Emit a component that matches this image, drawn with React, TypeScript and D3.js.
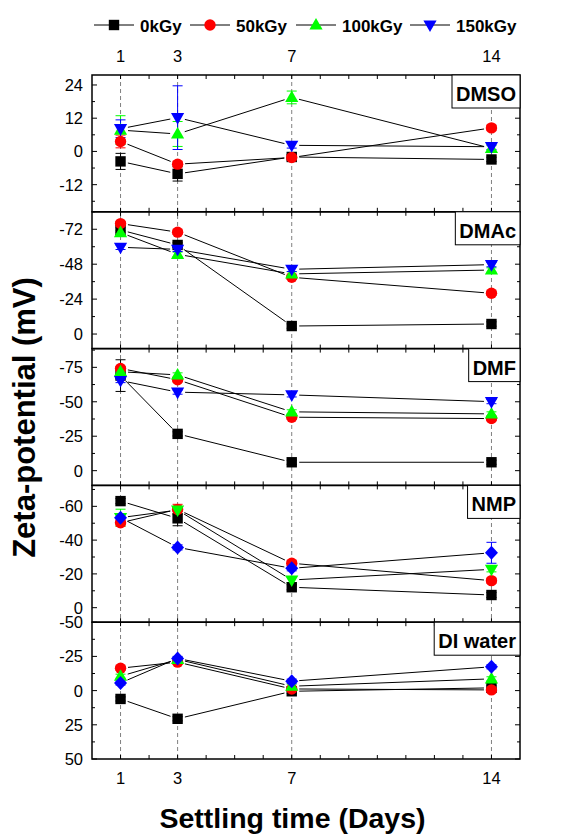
import React from 'react';
import * as d3 from 'd3';

// ---- data ----
const days = [1, 3, 7, 14];
const doseLabels = ['0kGy', '50kGy', '100kGy', '150kGy'];

const dmsoValues = [
  [-3.6, -8.1, -2.0, -2.9],
  [3.6, -4.6, -2.2, 8.5],
  [7.7, 6.3, 19.5, 1.1],
  [8.2, 12.2, 2.2, 1.7],
];
const dmsoErrors = [
  [2.9, 2.6, 0.8, 0.8],
  [2.3, 1.0, 1.0, 1.0],
  [5.2, 4.5, 2.3, 1.0],
  [3.2, 11.5, 1.0, 1.0],
];

const dmacValues = [
  [-71.5, -61.2, -5.5, -6.9],
  [-75.9, -70.0, -39.0, -28.0],
  [-69.7, -54.8, -41.3, -44.0],
  [-59.6, -58.2, -44.5, -47.7],
];
const dmacErrors = [
  [1.5, 1.5, 1.5, 1.5],
  [1.5, 1.5, 1.5, 1.5],
  [1.5, 1.5, 1.5, 1.5],
  [1.5, 1.5, 1.5, 1.5],
];

const dmfValues = [
  [-69.0, -26.7, -6.1, -6.1],
  [-74.2, -66.0, -38.8, -37.8],
  [-71.8, -69.5, -42.7, -41.2],
  [-65.4, -57.0, -55.0, -50.1],
];
const dmfErrors = [
  [11.5, 1.5, 1.5, 1.5],
  [1.5, 1.5, 1.5, 1.5],
  [1.5, 1.5, 1.5, 1.5],
  [1.5, 1.5, 1.5, 1.5],
];

const nmpValues = [
  [-63.1, -52.9, -12.1, -7.5],
  [-50.3, -58.2, -26.3, -16.0],
  [-53.3, -57.8, -16.4, -22.7],
  [-53.3, -35.7, -23.3, -32.5],
];
const nmpErrors = [
  [1.5, 4.4, 1.5, 1.5],
  [2.0, 3.0, 1.5, 1.5],
  [5.0, 2.0, 1.5, 1.5],
  [2.0, 1.5, 1.5, 6.2],
];

const diValues = [
  [6.1, 20.6, 0.5, -2.0],
  [-16.4, -20.8, -1.2, -0.5],
  [-10.5, -22.8, -3.2, -8.6],
  [-5.6, -23.5, -6.9, -17.4],
];
const diErrors = [
  [1.5, 1.5, 1.5, 1.5],
  [1.5, 1.5, 1.5, 1.5],
  [1.5, 1.5, 1.5, 1.5],
  [1.5, 1.5, 1.5, 1.5],
];

const panels = [
  { name: 'DMSO', values: dmsoValues, errors: dmsoErrors, domain: [-21.8, 27.6], ticks: [-12, 0, 12, 24], minor: 6 },
  { name: 'DMAc', values: dmacValues, errors: dmacErrors, domain: [10, -84], ticks: [-72, -48, -24, 0], minor: 12 },
  { name: 'DMF', values: dmfValues, errors: dmfErrors, domain: [10.7, -88.6], ticks: [-75, -50, -25, 0], minor: 12.5 },
  { name: 'NMP', values: nmpValues, errors: nmpErrors, domain: [8.6, -72.4], ticks: [-60, -40, -20, 0], minor: 10 },
  { name: 'DI water', values: diValues, errors: diErrors, domain: [50, -50], ticks: [-50, -25, 0, 25, 50], minor: 12.5 },
];

// ---- styling ----
const FONT = '"Liberation Sans", Arial, Helvetica, sans-serif';
const colors = ['#000000', '#ff0000', '#00ff00', '#0000ff'];
const stdShapes = ['square', 'circle', 'triUp', 'triDown'];
const panelShapes = [
  stdShapes,
  stdShapes,
  stdShapes,
  ['square', 'circle', 'triDown', 'diamond'],
  ['square', 'circle', 'triUp', 'diamond'],
];

const W = 563;
const H = 834;
const left = 92;
const right = 520;
const top0 = 75;
const bottom0 = 759;
const panelH = (bottom0 - top0) / panels.length;
const tickFont = 16.5;

const x = d3.scaleLinear().domain([0, 15]).range([left, right]);

function shapePath(shape: string): string {
  switch (shape) {
    case 'square':
      return 'M-5.2,-5.2H5.2V5.2H-5.2Z';
    case 'circle':
      return 'M-5.7,0A5.7,5.7 0 1,0 5.7,0A5.7,5.7 0 1,0 -5.7,0Z';
    case 'triUp':
      return 'M0,-7L6.6,4.6L-6.6,4.6Z';
    case 'triDown':
      return 'M0,7L6.6,-4.6L-6.6,-4.6Z';
    case 'diamond':
      return 'M0,-7L6.5,0L0,7L-6.5,0Z';
  }
  return '';
}

function textWidth(s: string, font: string): number {
  const ctx = document.createElement('canvas').getContext('2d');
  if (!ctx) return s.length * 11;
  ctx.font = font;
  return ctx.measureText(s).width;
}

function Panel({ idx }: { idx: number }) {
  const p = panels[idx];
  const pTop = top0 + idx * panelH;
  const pBot = pTop + panelH;
  const y = d3.scaleLinear().domain(p.domain).range([pBot, pTop]);
  const lo = Math.min(p.domain[0], p.domain[1]);
  const hi = Math.max(p.domain[0], p.domain[1]);
  const minorTicks = d3.range(Math.ceil(lo / p.minor) * p.minor, hi + 0.001, p.minor)
    .filter((v) => !p.ticks.some((t) => Math.abs(t - v) < 1e-6));
  const xTicks = d3.range(1, 15);
  const gap = 7.5;

  const bw = textWidth(p.name, `bold 20px ${FONT}`) + 8;

  return (
    <g>
      {/* ticks */}
      {xTicks.map((d) => (
        <g key={'xt' + d} stroke="#000" strokeWidth={1}>
          <line x1={x(d)} x2={x(d)} y1={pBot} y2={pBot - 4} />
          <line x1={x(d)} x2={x(d)} y1={pTop} y2={pTop + 4} />
        </g>
      ))}
      {p.ticks.map((t) => (
        <g key={'yt' + t}>
          <line x1={left} x2={left + 5} y1={y(t)} y2={y(t)} stroke="#000" />
          <line x1={right} x2={right - 5} y1={y(t)} y2={y(t)} stroke="#000" />
          <text x={83} y={y(t)} dy="0.36em" textAnchor="end" fontSize={tickFont} fontFamily={FONT}>
            {t}
          </text>
        </g>
      ))}
      {minorTicks.map((t) => (
        <g key={'ym' + t} stroke="#000">
          <line x1={left} x2={left + 3} y1={y(t)} y2={y(t)} />
          <line x1={right} x2={right - 3} y1={y(t)} y2={y(t)} />
        </g>
      ))}
      {/* connecting lines with gaps at markers */}
      {p.values.map((series, si) => {
        const pts = series.map((v, i) => [x(days[i]), y(v)]);
        return pts.slice(1).map((b, i) => {
          const a = pts[i];
          const dx = b[0] - a[0];
          const dy = b[1] - a[1];
          const len = Math.hypot(dx, dy);
          if (len < gap * 2) return null;
          const ux = dx / len;
          const uy = dy / len;
          return (
            <line
              key={`ln${si}-${i}`}
              x1={a[0] + ux * gap}
              y1={a[1] + uy * gap}
              x2={b[0] - ux * gap}
              y2={b[1] - uy * gap}
              stroke="#000"
              strokeWidth={1}
            />
          );
        });
      })}
      {/* error bars */}
      {p.values.map((series, si) =>
        series.map((v, i) => {
          const e = p.errors[si][i];
          const cx = x(days[i]);
          const y1 = y(v - e);
          const y2 = y(v + e);
          return (
            <g key={`eb${si}-${i}`} stroke={colors[si]} strokeWidth={1}>
              <line x1={cx} x2={cx} y1={y1} y2={y2} />
              <line x1={cx - 5} x2={cx + 5} y1={y1} y2={y1} />
              <line x1={cx - 5} x2={cx + 5} y1={y2} y2={y2} />
            </g>
          );
        })
      )}
      {/* markers */}
      {p.values.map((series, si) =>
        series.map((v, i) => (
          <path
            key={`mk${si}-${i}`}
            d={shapePath(panelShapes[idx][si])}
            transform={`translate(${x(days[i])},${y(v)})`}
            fill={colors[si]}
          />
        ))
      )}
      {/* frame */}
      <rect x={left} y={pTop} width={right - left} height={panelH} fill="none" stroke="#000" strokeWidth={1.5} />
      {/* name box */}
      <rect x={right - bw} y={pTop} width={bw} height={33} fill="#fff" stroke="#000" strokeWidth={1} />
      <text
        x={right - bw / 2}
        y={pTop + 26}
        textAnchor="middle"
        fontSize={20}
        fontWeight="bold"
        fontFamily={FONT}
      >
        {p.name}
      </text>
    </g>
  );
}

function Legend() {
  const centers = [114, 210, 316, 430];
  const cy = 25;
  return (
    <g>
      {doseLabels.map((lab, i) => (
        <g key={lab}>
          <line x1={centers[i] - 20} x2={centers[i] + 20} y1={cy} y2={cy} stroke="#000" strokeWidth={1} />
          <path d={shapePath(stdShapes[i])} transform={`translate(${centers[i]},${cy})`} fill={colors[i]} />
          <text x={centers[i] + 26} y={cy + 6.5} fontSize={17} fontWeight="bold" fontFamily={FONT}>
            {lab}
          </text>
        </g>
      ))}
    </g>
  );
}

export default function App() {
  return (
    <svg
      width={W}
      height={H}
      viewBox={`0 0 ${W} ${H}`}
      style={{ position: 'absolute', left: 0, top: 0, background: '#fff' }}
    >
      <rect width={W} height={H} fill="#fff" />
      <Legend />
      {/* top day labels */}
      {days.map((d) => (
        <text key={'tl' + d} x={x(d)} y={62} textAnchor="middle" fontSize={tickFont} fontFamily={FONT}>
          {d}
        </text>
      ))}
      {/* vertical dashed guides */}
      {days.map((d) => (
        <line
          key={'dl' + d}
          x1={x(d)}
          x2={x(d)}
          y1={top0}
          y2={bottom0}
          stroke="#808080"
          strokeWidth={1}
          strokeDasharray="4 3"
        />
      ))}
      {panels.map((p, i) => (
        <Panel key={p.name} idx={i} />
      ))}
      {/* bottom day labels */}
      {days.map((d) => (
        <text key={'bl' + d} x={x(d)} y={784} textAnchor="middle" fontSize={tickFont} fontFamily={FONT}>
          {d}
        </text>
      ))}
      <text x={292.5} y={828} textAnchor="middle" fontSize={28.5} fontWeight="bold" fontFamily={FONT}>
        Settling time (Days)
      </text>
      <text
        transform="translate(35,417.5) rotate(-90)"
        textAnchor="middle"
        fontSize={31}
        fontWeight="bold"
        fontFamily={FONT}
      >
        Zeta-potential (mV)
      </text>
    </svg>
  );
}
